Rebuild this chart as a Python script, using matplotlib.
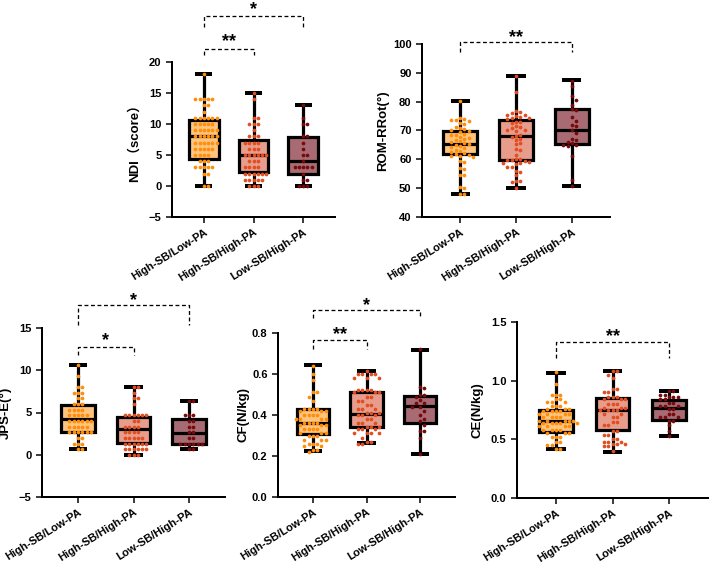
import matplotlib
matplotlib.use("Agg")
import matplotlib.pyplot as plt
import matplotlib.transforms as mtransforms
import numpy as np

plt.rcParams['font.family'] = ['Liberation Sans', 'Noto Sans CJK SC', 'DejaVu Sans']
plt.rcParams['font.weight'] = 'bold'

groups = ["High-SB/Low-PA", "High-SB/High-PA", "Low-SB/High-PA"]
box_fill = ["#FFC47E", "#E89C8B", "#A86B73"]
pt_color = ["#FF8E0A", "#E04E22", "#760A0C"]

# ---------- NDI ----------
ndi_stats = [[0, 4.4, 8, 10.6, 18], [0, 2.2, 5, 7.4, 15], [0, 2.0, 4, 7.9, 13]]
ndi_g1 = [18] + [14]*5 + [13]*2 + [12] + [11]*6 + [10]*5 + [9]*6 + [8]*6 + [7]*6 + [6]*5 + [5]*4 + [4]*3 + [3]*5 + [2]*2 + [0]*2
ndi_g2 = [15, 14] + [11]*2 + [10]*3 + [9] + [8]*3 + [7]*4 + [6]*3 + [5]*6 + [4]*3 + [3]*4 + [2]*6 + [1]*5 + [0]*3
ndi_g3 = [13, 11] + [10]*2 + [8]*2 + [7, 6] + [5]*2 + [4] + [3]*5 + [2] + [1]*2 + [0]*3

# ---------- ROM-RRot ----------
rom_stats = [[48, 61.8, 65.4, 69.9, 80.2], [50.2, 59.8, 68.2, 73.5, 88.8], [50.8, 65.2, 70.2, 77.5, 87.4]]
rom_g1 = [80.2, 74.5, 74.0, 73.5, 73.6, 73.2, 72.6, 72.4, 71.0, 71.2, 70.5, 70.0, 69.8, 69.5, 68.9,
          68.6, 68.3, 67.8, 67.5, 67.0, 66.6, 66.3, 66.0, 65.5, 65.3, 65.0, 64.6, 64.2, 63.8, 63.4,
          62.9, 62.6, 62.2, 61.8, 61.5, 61.2, 61.0, 60.8, 59.4, 59.2, 57.0, 56.8, 54.6, 54.4, 50.5,
          50.0, 48.1, 48.0]
rom_g2 = [88.8, 83.2, 76.6, 76.4, 76.0, 75.5, 75.3, 75.0, 74.8, 74.5, 74.3, 74.0, 73.0, 72.8, 72.6,
          71.5, 71.2, 71.0, 70.3, 70.1, 69.8, 68.5, 68.2, 67.8, 67.0, 66.7, 65.5, 65.2, 63.5, 63.2,
          61.5, 60.2, 60.0, 59.8, 59.6, 59.4, 59.0, 58.8, 58.6, 58.4, 57.5, 57.2, 56.0, 55.7, 54.5,
          52.6, 52.4, 52.2, 50.2]
rom_g3 = [87.3, 85.6, 82.0, 80.6, 79.0, 77.3, 77.0, 74.6, 73.4, 72.0, 71.6, 70.2, 69.2, 67.2, 66.8,
          66.0, 65.5, 65.0, 64.8, 64.5, 61.0, 53.0, 50.8]

# ---------- JPS-E ----------
jps_stats = [[0.67, 2.7, 4.2, 5.85, 10.67], [0, 1.4, 3.0, 4.5, 8.0], [0.67, 1.3, 2.6, 4.2, 6.33]]
jps_g1 = [10.67, 9.33] + [8.0]*2 + [7.33]*3 + [6.67]*2 + [6.0]*3 + [5.33]*4 + [4.67]*5 + [4.0]*6 + [3.33]*5 + [2.67]*6 + [2.0]*2 + [1.33]*3 + [0.67]*2
jps_g2 = [8.0]*2 + [7.33] + [6.67]*2 + [6.0] + [4.67]*6 + [4.0]*2 + [3.33]*4 + [2.67]*4 + [2.0]*5 + [1.33]*6 + [0.67]*6 + [0.0]*3
jps_g3 = [6.33]*2 + [4.67]*3 + [4.0]*2 + [3.33]*2 + [2.67]*2 + [2.0]*2 + [1.33]*6 + [0.67]*2

# ---------- CF ----------
cf_stats = [[0.223, 0.306, 0.359, 0.429, 0.642], [0.263, 0.343, 0.405, 0.514, 0.615], [0.211, 0.363, 0.444, 0.493, 0.719]]
cf_g1 = [0.64, 0.60, 0.57, 0.51, 0.51, 0.49, 0.47] + [0.43]*4 + [0.42]*3 + [0.40]*4 + [0.38]*4 + [0.36]*4 + [0.35]*3 + [0.33]*4 + [0.31]*3 + [0.30]*3 + [0.28]*3 + [0.26]*3 + [0.25]*2 + [0.23]*2 + [0.22]
cf_g2 = [0.615] + [0.60]*4 + [0.58]*3 + [0.52]*4 + [0.51]*3 + [0.49]*2 + [0.47]*2 + [0.45]*2 + [0.43]*3 + [0.41]*3 + [0.40]*3 + [0.38]*2 + [0.36]*3 + [0.34]*3 + [0.33]*3 + [0.31]*4 + [0.29] + [0.27]*2 + [0.26]*2
cf_g3 = [0.72, 0.535, 0.53, 0.50, 0.50, 0.49, 0.475, 0.46, 0.46, 0.44, 0.44, 0.42, 0.40, 0.38, 0.37, 0.35, 0.32, 0.32, 0.29, 0.21]

# ---------- CE ----------
ce_stats = [[0.418, 0.56, 0.656, 0.75, 1.068], [0.395, 0.577, 0.747, 0.852, 1.08], [0.531, 0.662, 0.77, 0.832, 0.912]]
ce_g1 = [1.07, 0.97] + [0.88]*3 + [0.84]*2 + [0.82]*3 + [0.78]*3 + [0.76]*3 + [0.74]*4 + [0.72]*4 + [0.69]*4 + [0.66]*5 + [0.64]*5 + [0.61]*4 + [0.58]*4 + [0.55]*3 + [0.52]*3 + [0.48]*2 + [0.45]*2 + [0.42]*2
ce_g2 = [1.08]*2 + [1.05, 1.02] + [0.93]*2 + [0.90]*2 + [0.86]*3 + [0.84]*3 + [0.80]*3 + [0.77]*3 + [0.75]*4 + [0.72]*2 + [0.69]*2 + [0.65]*2 + [0.62]*2 + [0.57]*2 + [0.54]*2 + [0.50]*2 + [0.48]*3 + [0.46]*3 + [0.44]*2 + [0.40]
ce_g3 = [0.91]*2 + [0.88]*2 + [0.86]*3 + [0.84]*2 + [0.81]*2 + [0.78]*3 + [0.76]*2 + [0.72]*2 + [0.69]*3 + [0.66]*2 + [0.62, 0.57, 0.53]

W, H = 711, 565
fig = plt.figure(figsize=(W/100, H/100), dpi=100)

def rect(l, r, t, b):
    return [l/W, (H-b)/H, (r-l)/W, (b-t)/H]

PT = 0.72  # one pixel in points at 100 dpi

def beeswarm(ax, xc, vals, d=4.3):
    tr = ax.transData
    inv = tr.inverted()
    placed = []
    out = []
    cands = [0.0]
    for i in range(1, 40):
        cands += [i*d, -i*d] if i % 2 else [-i*d, i*d]
    for v in sorted(vals, reverse=True):
        px0, py = tr.transform((xc, v))
        for off in cands:
            ok = True
            for (qx, qy) in placed:
                if (px0+off-qx)**2 + (py-qy)**2 < (d*0.98)**2:
                    ok = False
                    break
            if ok:
                placed.append((px0+off, py))
                out.append(inv.transform((px0+off, py)))
                break
    return np.array(out)

def panel(r, ylim, yticks, ylabel, stats, pts, brackets, xlim, label_x, fmt=None):
    ax = fig.add_axes(r)
    ax.set_xlim(*xlim)
    ax.set_ylim(*ylim)
    bstats = [dict(whislo=s[0], q1=s[1], med=s[2], q3=s[3], whishi=s[4], fliers=[]) for s in stats]
    lw = 3.2*PT
    bp = ax.bxp(bstats, positions=[1, 2, 3], widths=0.6, patch_artist=True, showfliers=False,
                capwidths=0.34,
                boxprops=dict(linewidth=lw, edgecolor='black'),
                whiskerprops=dict(linewidth=lw, color='black', solid_capstyle='butt'),
                capprops=dict(linewidth=4*PT, color='black', solid_capstyle='butt'),
                medianprops=dict(linewidth=lw, color='black', solid_capstyle='butt'))
    for p, c in zip(bp['boxes'], box_fill):
        p.set_facecolor(c)
    for i, vals in enumerate(pts):
        xy = beeswarm(ax, i+1, vals)
        ax.plot(xy[:, 0], xy[:, 1], 'o', ms=3.7*PT, color=pt_color[i], mec='none', zorder=5, clip_on=False)
    for s in ['top', 'right']:
        ax.spines[s].set_visible(False)
    for s in ['left', 'bottom']:
        ax.spines[s].set_linewidth(2*PT)
    ax.set_yticks(yticks)
    if fmt:
        ax.set_yticklabels([fmt.format(t) for t in yticks])
    ax.set_xticks([1, 2, 3])
    ax.set_xticklabels(groups, rotation=32, ha='right', rotation_mode='anchor', fontsize=7.6, fontweight='bold')
    ax.tick_params(axis='both', width=1.5*PT, length=4, labelsize=8)
    ax.tick_params(axis='x', pad=3)
    for t in ax.get_yticklabels():
        t.set_fontweight('bold')
    ax.set_ylabel(ylabel, fontsize=9.5, fontweight='bold')
    # place y-label centre at given figure pixel x
    axl = r[0]*W
    axw = r[2]*W
    ax.yaxis.set_label_coords((label_x - axl)/axw, 0.5)
    star_tr = mtransforms.offset_copy(ax.transData, fig=fig, y=-4, units='dots')
    for (x1, x2, ytop, ydrop, ystar, star) in brackets:
        ax.plot([x1, x1, x2, x2], [ydrop, ytop, ytop, ydrop], color='black', lw=1.3*PT,
                ls=(0, (3, 2)), clip_on=False)
        ax.text((x1+x2)/2, ystar, star, ha='center', va='center', fontsize=13, fontweight='bold',
                clip_on=False, transform=star_tr)
    return ax

panel(rect(172, 335, 62, 217), (-5, 20), [-5, 0, 5, 10, 15, 20], "NDI（score）", ndi_stats,
      [ndi_g1, ndi_g2, ndi_g3],
      [(1, 2, 22.1, 21.1, 24.0, "**"), (1, 3, 27.4, 25.7, 29.1, "*")], (0.36, 3.64), 141)
panel(rect(422, 610, 44, 217), (40, 100), [40, 50, 60, 70, 80, 90, 100], "ROM-RRot(°)", rom_stats,
      [rom_g1, rom_g2, rom_g3],
      [(1, 3, 100.7, 97.2, 103.6, "**")], (0.32, 3.68), 389)
panel(rect(42, 225, 328, 497), (-5, 15), [-5, 0, 5, 10, 15], "JPS-E(°)", jps_stats,
      [jps_g1, jps_g2, jps_g3],
      [(1, 2, 12.8, 11.8, 14.0, "*"), (1, 3, 17.7, 15.35, 18.7, "*")], (0.35, 3.65), 12)
panel(rect(278, 455, 333, 497), (0, 0.8), [0.0, 0.2, 0.4, 0.6, 0.8], "CF(N/kg)", cf_stats,
      [cf_g1, cf_g2, cf_g3],
      [(1, 2, 0.766, 0.72, 0.81, "**"), (1, 3, 0.912, 0.872, 0.955, "*")], (0.35, 3.65), 250, fmt="{:.1f}")
panel(rect(517, 708, 322, 498), (0, 1.5), [0.0, 0.5, 1.0, 1.5], "CE(N/kg)", ce_stats,
      [ce_g1, ce_g2, ce_g3],
      [(1, 3, 1.332, 1.19, 1.41, "**")], (0.31, 3.69), 483, fmt="{:.1f}")

fig.savefig("out.png", dpi=100)
